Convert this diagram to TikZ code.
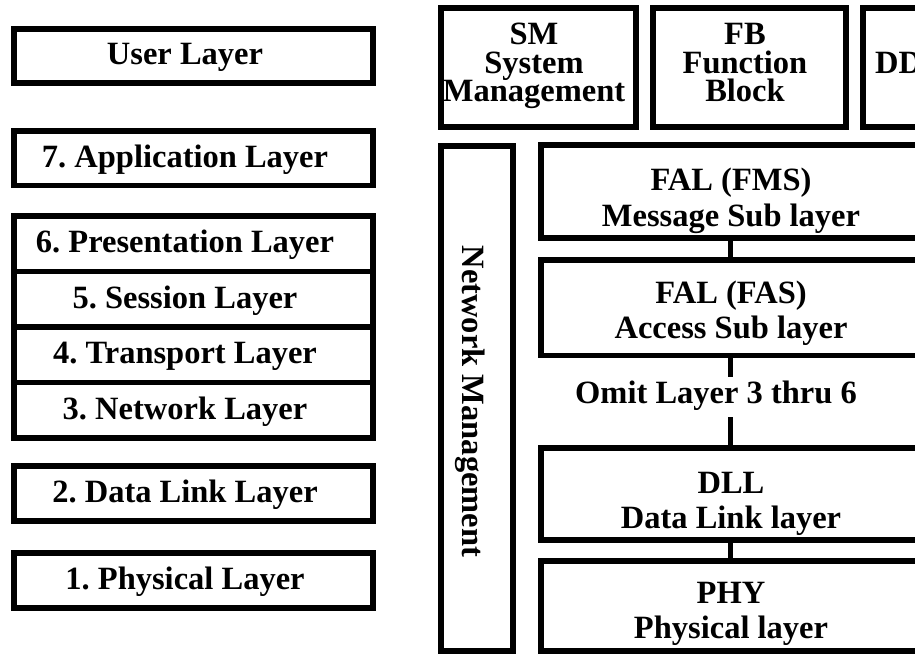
\documentclass[tikz,border=0pt]{standalone}
\usepackage{fontspec}
\setmainfont{Liberation Serif}
\frenchspacing
\begin{document}
\begin{tikzpicture}[x=1pt,y=-1pt,
  layer/.style={draw=black, line width=5.5pt, fill=white, rectangle, inner sep=0pt, outer sep=0pt},
  txt/.style={font=\fontsize{32.5}{35}\selectfont\bfseries, anchor=base, inner sep=0pt},
  link/.style={draw=black, line width=5pt}]
\useasboundingbox (0,0) rectangle (915,655);
\fill[white] (0,0) rectangle (915,655);
\clip (0,0) rectangle (915,655);

% ---------- OSI reference model (left column) ----------
\node[layer, minimum width=359pt, minimum height=54pt]   (user) at (193.5,56)     {};
\node[layer, minimum width=359pt, minimum height=54.5pt] (app)  at (193.5,158.25) {};
\node[layer, minimum width=359pt, minimum height=55.5pt] (pres) at (193.5,243.75) {};
\node[layer, minimum width=359pt, minimum height=55.5pt] (sess) at (193.5,299.25) {};
\node[layer, minimum width=359pt, minimum height=55.5pt] (tran) at (193.5,354.75) {};
\node[layer, minimum width=359pt, minimum height=55.5pt] (netw) at (193.5,410.25) {};
\node[layer, minimum width=359pt, minimum height=55pt]   (dlnk) at (193.5,493.5)  {};
\node[layer, minimum width=359pt, minimum height=55pt]   (phys) at (193.5,580.5)  {};

\node[txt] (userT) at (185,65)     {User Layer};
\node[txt] (appT)  at (185,167.25) {7. Application Layer};
\node[txt] (presT) at (185,252.75) {6. Presentation Layer};
\node[txt] (sessT) at (185,308.25) {5. Session Layer};
\node[txt] (tranT) at (185,363.75) {4. Transport Layer};
\node[txt] (netwT) at (185,419.25) {3. Network Layer};
\node[txt] (dlnkT) at (185,502.5)  {2. Data Link Layer};
\node[txt] (physT) at (185,589.5)  {1. Physical Layer};

% ---------- Fieldbus model (right column) ----------
% stacked layers and the connectors between them
\node[layer, minimum width=378pt, minimum height=93pt]   (fms) at (730,191.5)  {};
\node[layer, minimum width=378pt, minimum height=95.5pt] (fas) at (730,307.75) {};
\node[layer, minimum width=378pt, minimum height=92pt]   (dll) at (730,494)    {};
\node[layer, minimum width=378pt, minimum height=90pt]   (phy) at (730,606)    {};
\coordinate (omitTop) at (730,377);
\coordinate (omitBot) at (730,417);
\draw[link] (fms.south) -- (fas.north);
\draw[link] (fas.south) -- (omitTop);
\draw[link] (omitBot) -- (dll.north);
\draw[link] (dll.south) -- (phy.north);

% user-layer blocks
\node[layer, minimum width=195pt, minimum height=119pt] (sm) at (538.5,67.5) {};
\node[layer, minimum width=193pt, minimum height=119pt] (fb) at (749.5,67.5) {};
\node[layer, minimum width=197pt, minimum height=119pt] (dd) at (961.5,67.5) {};

% network management column
\node[layer, minimum width=72pt, minimum height=505pt] (nm) at (477,398.5) {};

% texts
\node[txt] (smA) at (534,45)   {SM};
\node[txt] (smB) at (534,73.5) {System};
\node[txt] (smC) at (534,102)  {Management};
\node[txt] (fbA) at (745,45)   {FB};
\node[txt] (fbB) at (745,73.5) {Function};
\node[txt] (fbC) at (745,102)  {Block};
\node[txt, anchor=base west] (ddA) at (875,73.5) {DD};

\node[txt, rotate=-90] (nmT) at (462.5,401.5) {Network Management};

\node[txt] (fmsA) at (731,191) {FAL (FMS)};
\node[txt] (fmsB) at (731,226) {Message Sub layer};
\node[txt] (fasA) at (731,303) {FAL (FAS)};
\node[txt] (fasB) at (731,338) {Access Sub layer};
\node[txt] (omit) at (716,403) {Omit Layer 3 thru 6};
\node[txt] (dllA) at (731,493) {DLL};
\node[txt] (dllB) at (731,528) {Data Link layer};
\node[txt] (phyA) at (731,603) {PHY};
\node[txt] (phyB) at (731,638) {Physical layer};
\end{tikzpicture}
\end{document}
